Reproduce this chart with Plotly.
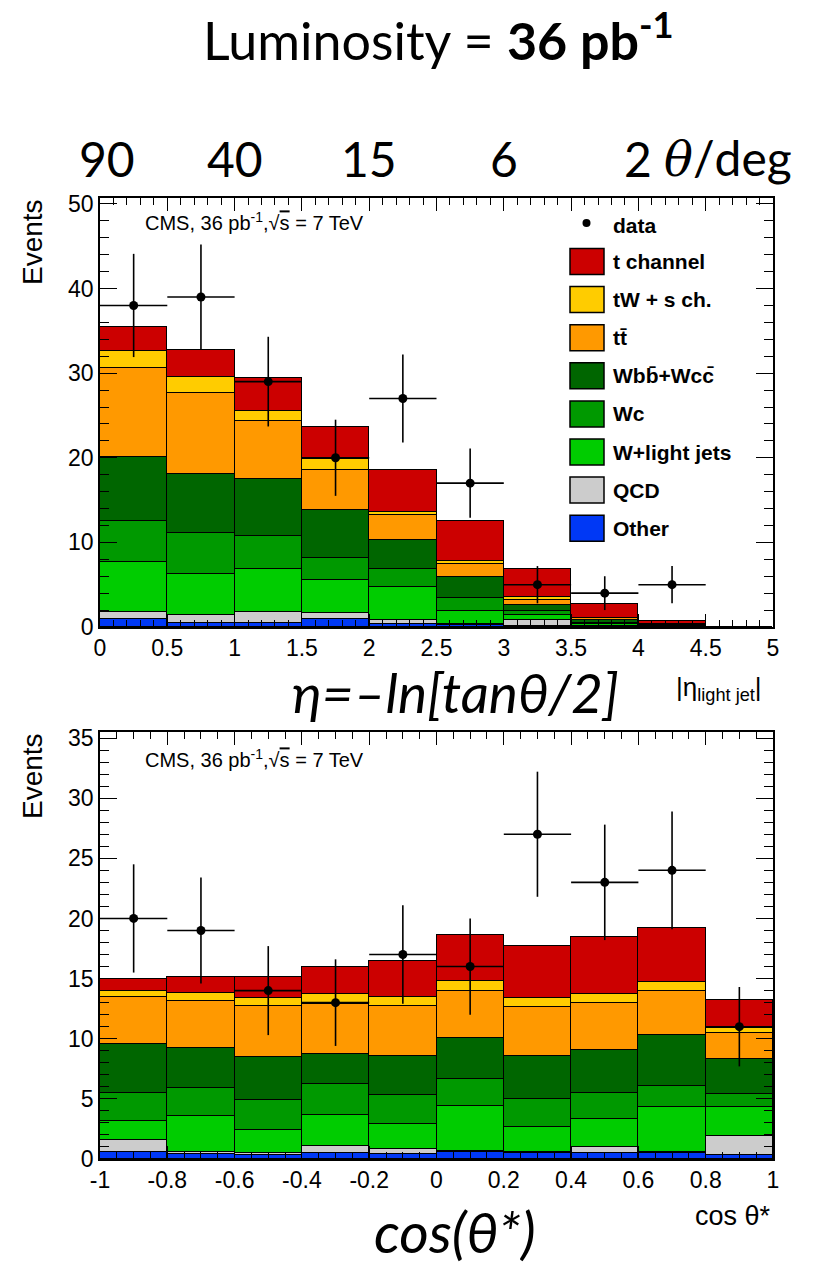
import plotly.graph_objects as go

W, H = 817, 1267

# ---------------- data: top panel (|eta light jet|) ----------------
eta_centers = [0.25, 0.75, 1.25, 1.75, 2.25, 2.75, 3.25, 3.75, 4.25, 4.75]
eta_other = [0.95, 0.5, 0.5, 0.95, 0.4, 0.2, 0.1, 0.05, 0.02, 0]
eta_qcd = [0.85, 0.9, 1.3, 0.75, 0.4, 0.2, 0.7, 0.05, 0.02, 0]
eta_wlight = [5.9, 4.9, 5.1, 3.8, 3.9, 1.5, 0.6, 0.2, 0.05, 0]
eta_wc = [4.8, 4.8, 3.8, 2.6, 2.1, 1.5, 0.5, 0.2, 0.05, 0]
eta_wbb = [7.6, 7.0, 6.8, 5.7, 3.5, 2.5, 0.7, 0.3, 0.1, 0]
eta_tt = [10.5, 9.6, 6.9, 4.8, 2.9, 1.5, 0.6, 0.25, 0.1, 0]
eta_tw = [2.0, 1.8, 1.1, 1.2, 0.4, 0.4, 0.3, 0.05, 0.02, 0]
eta_tch = [2.9, 3.2, 3.9, 3.8, 4.9, 4.7, 3.3, 1.6, 0.4, 0]
eta_data_x = [0.25, 0.75, 1.25, 1.75, 2.25, 2.75, 3.25, 3.75, 4.25]
eta_data = [38, 39, 29, 20, 27, 17, 5, 4, 5]
eta_data_err = [6.1, 6.2, 5.3, 4.5, 5.2, 4.1, 2.2, 2.0, 2.2]
eta_ticks = [0, 0.5, 1, 1.5, 2, 2.5, 3, 3.5, 4, 4.5, 5]
eta_ticktext = ["0", "0.5", "1", "1.5", "2", "2.5", "3", "3.5", "4", "4.5", "5"]
theta_labels = ["90", "40", "15", "6", "2"]
theta_pos = [0, 1, 2, 3, 4]

# ---------------- data: bottom panel (cos theta*) ----------------
cos_centers = [-0.9, -0.7, -0.5, -0.3, -0.1, 0.1, 0.3, 0.5, 0.7, 0.9]
cos_other = [0.55, 0.45, 0.35, 0.5, 0.45, 0.55, 0.5, 0.5, 0.5, 0.3]
cos_qcd = [1.05, 0.15, 0.15, 0.6, 0.35, 0.15, 0.1, 0.5, 0.1, 1.6]
cos_wlight = [1.6, 3.0, 1.9, 2.6, 2.1, 3.7, 2.1, 2.3, 3.7, 2.4]
cos_wc = [2.3, 2.3, 2.5, 2.5, 2.45, 2.25, 2.3, 2.2, 1.8, 1.1]
cos_wbb = [4.1, 3.3, 3.6, 2.55, 3.25, 3.45, 3.6, 3.6, 4.2, 2.9]
cos_tt = [3.9, 3.9, 4.2, 4.15, 4.1, 3.9, 4.0, 3.85, 3.7, 2.2]
cos_tw = [0.5, 0.7, 0.7, 0.8, 0.8, 0.8, 0.8, 0.8, 0.7, 0.4]
cos_tch = [1.0, 1.3, 1.7, 2.3, 3.0, 3.8, 4.3, 4.7, 4.5, 2.3]
cos_data = [20, 19, 14, 13, 17, 16, 27, 23, 24, 11]
cos_data_err = [4.5, 4.4, 3.7, 3.6, 4.1, 4.0, 5.2, 4.8, 4.9, 3.3]
cos_ticks = [-1, -0.8, -0.6, -0.4, -0.2, 0, 0.2, 0.4, 0.6, 0.8, 1]
cos_ticktext = ["-1", "-0.8", "-0.6", "-0.4", "-0.2", "0", "0.2", "0.4", "0.6", "0.8", "1"]

names = ["Other", "QCD", "W+light jets", "Wc", "Wbb\u0304+Wcc\u0304", "tt\u0304", "tW + s ch.", "t channel"]
colors = ["#0038f5", "#cccccc", "#00cc00", "#009900", "#006600", "#ff9900", "#ffcc00", "#cc0000"]

eta_stack = [eta_other, eta_qcd, eta_wlight, eta_wc, eta_wbb, eta_tt, eta_tw, eta_tch]
cos_stack = [cos_other, cos_qcd, cos_wlight, cos_wc, cos_wbb, cos_tt, cos_tw, cos_tch]

fig = go.Figure()

for vals, nm, col in zip(eta_stack, names, colors):
    fig.add_trace(go.Bar(x=eta_centers, y=vals, width=0.5, name=nm, marker=dict(color=col, line=dict(color="black", width=1.3)),
                         xaxis="x", yaxis="y", showlegend=False))
for vals, nm, col in zip(cos_stack, names, colors):
    fig.add_trace(go.Bar(x=cos_centers, y=vals, width=0.2, name=nm, marker=dict(color=col, line=dict(color="black", width=1.3)),
                         xaxis="x2", yaxis="y2", showlegend=False))

fig.add_trace(go.Scatter(x=eta_data_x, y=eta_data, mode="markers", name="data",
                         marker=dict(color="black", size=9),
                         error_y=dict(type="data", array=eta_data_err, color="black", thickness=1.6, width=0),
                         error_x=dict(type="constant", value=0.25, color="black", thickness=1.6, width=0),
                         xaxis="x", yaxis="y", showlegend=False))
fig.add_trace(go.Scatter(x=cos_centers, y=cos_data, mode="markers", name="data",
                         marker=dict(color="black", size=9),
                         error_y=dict(type="data", array=cos_data_err, color="black", thickness=1.6, width=0),
                         error_x=dict(type="constant", value=0.1, color="black", thickness=1.6, width=0),
                         xaxis="x2", yaxis="y2", showlegend=False))


def px(x):
    return x / W


def py(y):
    return 1 - y / H


tickfont = dict(family="Liberation Sans, Arial, sans-serif", size=23, color="black")
axis_common = dict(showline=True, linecolor="black", linewidth=1.6, mirror="allticks", ticks="inside",
                   tickcolor="black", tickwidth=1.3, showgrid=False, zeroline=False, tickfont=tickfont,
                   automargin=False)

fig.update_layout(
    width=W, height=H, margin=dict(l=0, r=0, t=0, b=0, pad=0, autoexpand=False),
    paper_bgcolor="white", plot_bgcolor="white",
    barmode="stack", bargap=0, showlegend=False,
    xaxis=dict(domain=[px(100), px(773)], anchor="y", range=[0, 5], tickvals=eta_ticks, ticktext=eta_ticktext,
               ticklen=13, minor=dict(dtick=0.1, tick0=0, ticks="inside", ticklen=7, tickcolor="black", tickwidth=1.1),
               **axis_common),
    yaxis=dict(domain=[py(627), py(198)], anchor="x", range=[0, 50.7], dtick=10, ticklen=17,
               minor=dict(dtick=2, tick0=0, ticks="inside", ticklen=9, tickcolor="black", tickwidth=1.1),
               **axis_common),
    xaxis2=dict(domain=[px(100), px(773)], anchor="y2", range=[-1, 1], tickvals=cos_ticks, ticktext=cos_ticktext,
                ticklen=13, minor=dict(dtick=0.05, tick0=0, ticks="inside", ticklen=7, tickcolor="black", tickwidth=1.1),
                **axis_common),
    yaxis2=dict(domain=[py(1159), py(732)], anchor="x2", range=[0, 35.5], dtick=5, ticklen=17,
                minor=dict(dtick=1, tick0=0, ticks="inside", ticklen=9, tickcolor="black", tickwidth=1.1),
                **axis_common),
)

ann = []
big = "Lato, Open Sans, sans-serif"


def A(x, y, text, size, family="Liberation Sans", xanchor="center", yanchor="middle", xref="paper", **kw):
    d = dict(x=x, y=y, xref=xref, yref="paper", showarrow=False, text=text, xanchor=xanchor, yanchor=yanchor,
             font=dict(family=family, size=size, color="black"))
    d.update(kw)
    ann.append(d)


A(px(438), py(37), "Luminosity = <b>36 pb<sup>-1</sup></b>", 52, family=big)
for lab, pos in zip(theta_labels, theta_pos):
    A(pos, py(158), lab, 48, family=big, xref="x", xshift=7 if pos == 0 else 0)
A(px(662), py(158), "<i><span style='font-family:DejaVu Serif'>\u03b8</span></i>/deg", 48, family=big, xanchor="left")
A(px(455), py(692), "<i>\u03b7=\u2013ln[tan\u03b8/2]</i>", 55, family=big)
A(px(764), py(688), "|\u03b7<sub>light jet</sub>|", 26, xanchor="right")
A(px(773), py(1216), "cos \u03b8*", 27, xanchor="right")
A(px(455), py(1231), "<i>cos(\u03b8*)</i>", 57, family=big)
for ytop in (197, 731):
    A(px(33), py(ytop), "Events", 28, yanchor="top", textangle=-90)
for yc in (222, 758):
    A(px(143), py(yc), "CMS, 36 pb<sup>-1</sup>,\u221a<span style='text-decoration:overline'>s</span> = 7 TeV",
      20, xanchor="left")

# legend (top panel)
shapes = []
shapes.append(dict(type="circle", xref="paper", yref="paper", x0=px(582.5), x1=px(590.5), y0=py(227), y1=py(219),
                   fillcolor="black", line=dict(color="black", width=0)))
A(px(611), py(225), "<b>data</b>", 21, xanchor="left")
leg_order = list(range(len(names) - 1, -1, -1))
for i, k in enumerate(leg_order):
    yc = 261.5 + i * 38.1
    shapes.append(dict(type="rect", xref="paper", yref="paper", x0=px(570), x1=px(604),
                       y0=py(yc + 13), y1=py(yc - 13), fillcolor=colors[k], line=dict(color="black", width=1.5)))
    A(px(611), py(yc), "<b>" + names[k] + "</b>", 21, xanchor="left")

fig.update_layout(annotations=ann, shapes=shapes)
fig.write_html("out.html", config={"displayModeBar": False},
               post_script="document.body.style.margin='0px';document.body.style.overflow='hidden';")
